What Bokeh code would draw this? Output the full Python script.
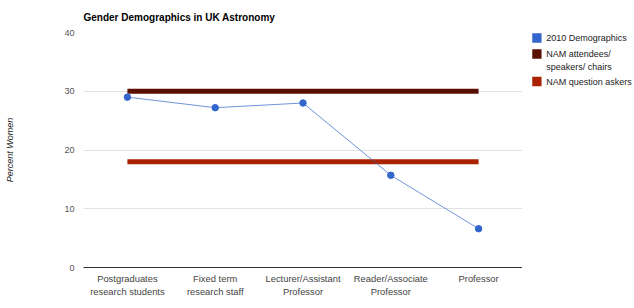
from bokeh.plotting import figure
from bokeh.layouts import row
from bokeh.models import ColumnDataSource, Range1d, FactorRange
from bokeh.core.properties import value
from bokeh.embed import file_html
from bokeh.resources import INLINE

categories = ["Postgraduates\nresearch students", "Fixed term\nresearch staff",
              "Lecturer/Assistant\nProfessor", "Reader/Associate\nProfessor", "Professor"]
demographics_2010 = [29.0, 27.2, 28.0, 15.7, 6.6]
nam_attendees = 30
nam_askers = 18
y_ticks = [0, 10, 20, 30, 40]
legend_labels = ["2010 Demographics", "NAM attendees/\nspeakers/ chairs", "NAM question askers"]

FONT = "Liberation Sans"
BLUE = "#3366cc"
DARK = "#5a1000"
RED = "#aa2200"
legend_colors = [BLUE, DARK, RED]

H = 306
TOP, BOTTOM, LEFT, RIGHT = 32, 267, 83, 522
p = figure(width=RIGHT, height=H, x_range=FactorRange(*categories), y_range=Range1d(0, 40),
           output_backend="svg", toolbar_location=None,
           min_border_left=LEFT, min_border_right=0, min_border_top=TOP, min_border_bottom=H - BOTTOM)
p.outline_line_color = None

p.title.text = "Gender Demographics in UK Astronomy"
p.title.text_font = FONT
p.title.text_font_size = "10px"
p.title.text_font_style = "bold"
p.title.text_color = "#000000"
p.title.align = "left"
p.title.vertical_align = "top"
p.title.offset = 0
p.title.standoff = 16

p.xgrid.grid_line_color = None
p.ygrid.grid_line_color = "#e2e2e2"
p.ygrid.ticker = y_ticks

p.yaxis.ticker = y_ticks
p.yaxis.axis_line_color = None
p.yaxis.major_tick_line_color = None
p.yaxis.major_tick_out = 0
p.yaxis.major_tick_in = 0
p.yaxis.minor_tick_line_color = None
p.yaxis.major_label_text_font = FONT
p.yaxis.major_label_text_font_size = "9px"
p.yaxis.major_label_text_color = "#555555"
p.yaxis.major_label_standoff = 9
p.yaxis.axis_label = "Percent Women"
p.yaxis.axis_label_text_font = FONT
p.yaxis.axis_label_text_font_size = "9px"
p.yaxis.axis_label_text_font_style = "italic"
p.yaxis.axis_label_text_color = "#222222"
p.yaxis.axis_label_standoff = 46

p.xaxis.axis_line_color = "#333333"
p.xaxis.major_tick_line_color = None
p.xaxis.major_tick_out = 0
p.xaxis.major_tick_in = 0
p.xaxis.minor_tick_line_color = None
p.xaxis.major_label_text_font = FONT
p.xaxis.major_label_text_font_size = "9.4px"
p.xaxis.major_label_text_color = "#444444"
p.xaxis.major_label_text_line_height = 1.22
p.xaxis.major_label_standoff = 5
p.xaxis.major_label_orientation = "horizontal"

src = ColumnDataSource(dict(x=categories, y=demographics_2010))
p.line([categories[0], categories[-1]], [nam_attendees, nam_attendees], line_color=DARK, line_width=5)
p.line([categories[0], categories[-1]], [nam_askers, nam_askers], line_color=RED, line_width=5)
p.line("x", "y", source=src, line_color=BLUE, line_width=1, line_alpha=0.7)
p.scatter("x", "y", source=src, size=6.5, fill_color=BLUE, line_color=BLUE)

# legend panel: its frame is aligned with the main frame; data coords = page pixels
LW = 634 - RIGHT
lg = figure(width=LW, height=H, x_range=Range1d(RIGHT, 634), y_range=Range1d(BOTTOM, TOP), title=None,
            output_backend="svg", toolbar_location=None,
            min_border_left=0, min_border_right=0, min_border_top=TOP, min_border_bottom=H - BOTTOM)
lg.outline_line_color = None
lg.xaxis.visible = False
lg.yaxis.visible = False
lg.grid.visible = False
row_center = [37.5, 53.5, 81]
lg.rect([RIGHT + 14.4] * 3, row_center, width=9.3, height=9.3, fill_color=legend_colors, line_color=None)
lg.text([RIGHT + 23.7] * 3, [c - 5 for c in row_center], text=legend_labels, text_font=value(FONT),
        text_font_size="9px", text_color="#222222", text_baseline="top", text_align="left",
        text_line_height=1.3)

layout = row(p, lg)
open("out.html", "w").write(file_html(layout, INLINE))
